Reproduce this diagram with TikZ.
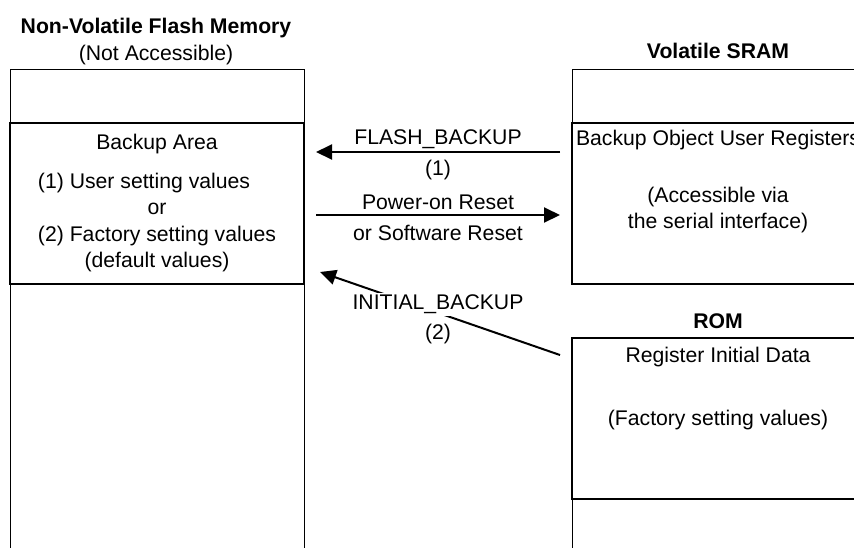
\documentclass[tikz,border=0pt]{standalone}
\usepackage{fontspec}
\setmainfont{Liberation Sans}
\usetikzlibrary{arrows.meta, positioning, calc}

\begin{document}
\begin{tikzpicture}[
    x=0.5pt, y=-0.5pt,
    node distance=1.2pt,
    txt/.style   ={inner sep=1pt, align=center, font=\fontsize{10.6}{13.2}\selectfont},
    head/.style  ={txt, font=\fontsize{10.6}{13.2}\selectfont\bfseries},
    column/.style={rectangle, draw, line width=0.5pt, anchor=north west,
                   minimum width=147pt, inner sep=0pt, outer sep=0pt},
    area/.style  ={rectangle, draw, line width=1.3pt, anchor=north west,
                   minimum width=147pt, minimum height=80.5pt, inner sep=0pt, outer sep=0pt},
    arrow/.style ={-{Triangle[length=8pt, width=7.5pt]}, line width=1pt,
                   shorten <=6pt, shorten >=6pt}
]
\useasboundingbox (0,0) rectangle (854,547);

% flash memory side
\node[column, minimum height=245pt] (flash)  at (10,69)  {};
\node[area]                         (backup) at (10,123) {};
\node[head]                   (flashtitle) at (156,28) {Non-Volatile Flash Memory};
\node[txt, below=of flashtitle] (flashnote) {(Not Accessible)};
\node[txt, below=4.5pt of backup.north] (backuptitle) {Backup Area};
\node[txt] (backupvals) at (157,222.5)
    {\rlap{(1) User setting values}\phantom{(2) Factory setting values}\\or\\
     (2) Factory setting values\\(default values)};

% sram side
\node[column, minimum height=107.5pt] (sram)    at (572,69)  {};
\node[area]                           (sramreg) at (572,123) {};
\node[head] (sramtitle)   at (718,51)  {Volatile SRAM};
\node[txt]  (sramregname) at (718,140) {Backup Object User Registers};
\node[txt]  (sramaccess)  at (718,210) {(Accessible via\\the serial interface)};

% rom side
\node[column, minimum height=115pt] (romcol) at (572,338) {};
\node[area]                         (rom)    at (572,338) {};
\node[head] (romtitle) at (718,321) {ROM};
\node[txt]  (romname)  at (718,357) {Register Initial Data};
\node[txt]  (romvals)  at (718,420) {(Factory setting values)};

% transfers
\draw[arrow] ([yshift=25.75pt]sramreg.west) -- ([yshift=25.75pt]backup.east)
    node[txt, midway, above]        (flashlbl) {FLASH\_BACKUP}
    node[txt, midway, below=2.5pt]  (flashnum) {(1)};
\draw[arrow] ([yshift=-5.75pt]backup.east) -- ([yshift=-5.75pt]sramreg.west)
    node[txt, midway, above=1pt]    (resetlbl) {Power-on Reset}
    node[txt, midway, below=3.5pt]  (resetsw)  {or Software Reset};

\coordinate (ibstart) at ([xshift=-6pt, yshift=31.75pt]rom.west);
\coordinate (ibend)   at ([xshift=8pt, yshift=-34.25pt]backup.east);
\draw[arrow, shorten <=0pt, shorten >=0pt] (ibstart) -- (ibend);
\node[txt, fill=white] (iblabel) at (438,304) {INITIAL\_BACKUP};
\node[txt, below=3pt of iblabel] (ibnum) {(2)};
\end{tikzpicture}
\end{document}
